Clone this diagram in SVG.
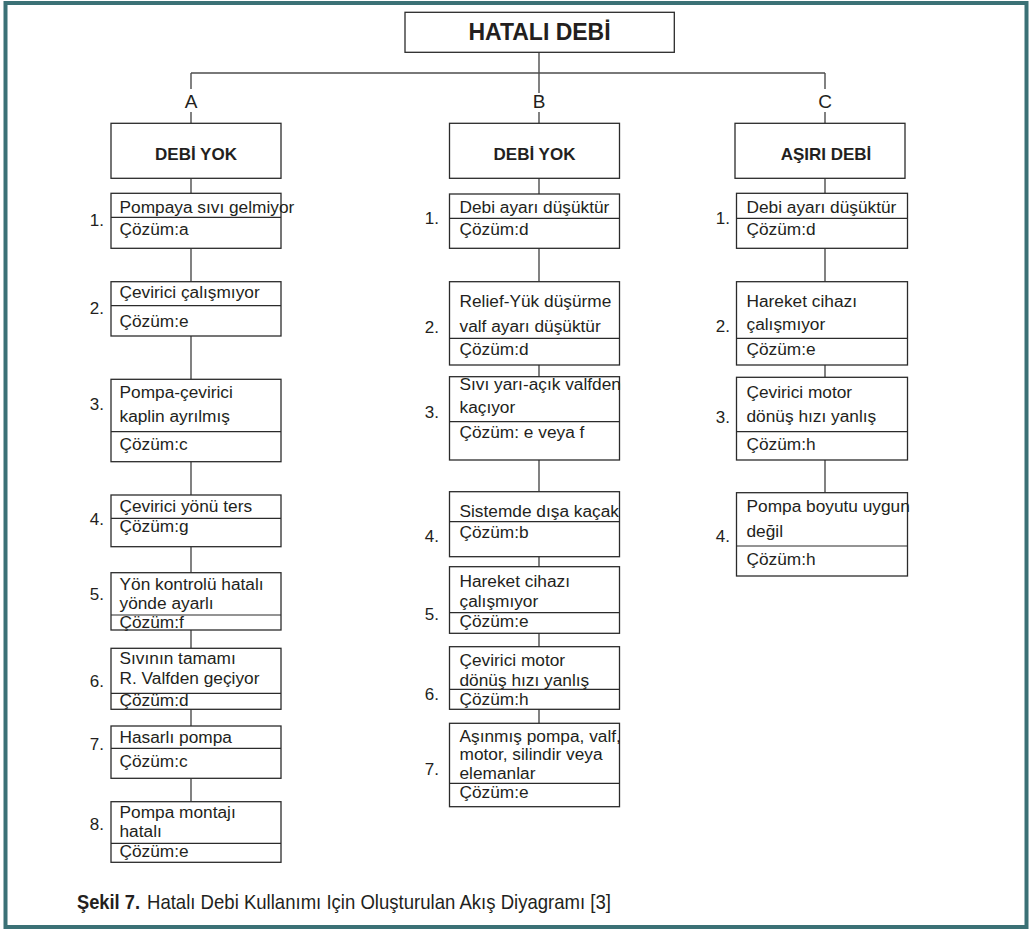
<svg xmlns="http://www.w3.org/2000/svg" width="1031" height="929" viewBox="0 0 1031 929">
<style>
.bg{fill:#ffffff}
.frame{fill:none;stroke:#3b7176;stroke-width:4}
.box{fill:#ffffff;stroke:#2b2b2b;stroke-width:1.3}
.dv{stroke:#2b2b2b;stroke-width:1.2}
.conn{stroke:#4d4d4d;stroke-width:1.4;fill:none}
.t{font-family:"Liberation Sans",Arial,Helvetica,sans-serif;font-size:17.3px;fill:#231f20}
.n{font-family:"Liberation Sans",Arial,Helvetica,sans-serif;font-size:17px;fill:#231f20;text-anchor:end}
.h{font-family:"Liberation Sans",Arial,Helvetica,sans-serif;font-size:17px;font-weight:bold;fill:#231f20;text-anchor:middle}
.lbl{font-family:"Liberation Sans",Arial,Helvetica,sans-serif;font-size:19px;fill:#231f20;text-anchor:middle}
.cap{font-family:"Liberation Sans",Arial,Helvetica,sans-serif;font-size:21px;fill:#231f20}
</style>
<rect class="bg" x="0" y="0" width="1031" height="929"/>
<rect class="frame" x="5.5" y="3" width="1021" height="924"/>

<g id="connectors">
<path class="conn" d="M539 52.3V93 M191 73H825 M191 73V89 M825 73V89 M191 112V123.3 M539 112V123.3 M825 112V123.3"/>
<path class="conn" d="M191 178.3V193.3 M191 248.3V281.7 M191 336V379.3 M191 461.7V495 M191 546.7V572.7 M191 630V648.3 M191 709.3V726 M191 778.3V801.7"/>
<path class="conn" d="M539 178.3V194 M539 248.3V281.7 M539 365V376.7 M539 460V491.7 M539 556.7V566.7 M539 633.3V646.7 M539 709.3V723.3"/>
<path class="conn" d="M825 178.3V193.3 M825 248.3V281.7 M825 365V377.3 M825 460V492.7"/>
</g>

<g id="title">
<rect class="box" x="405" y="12.3" width="269.3" height="40"/>
<text x="539.5" y="40" font-family="Liberation Sans,Arial,sans-serif" font-size="23" font-weight="bold" fill="#231f20" text-anchor="middle">HATALI DEBİ</text>
</g>
<g id="labels">
<text class="lbl" x="191" y="108">A</text>
<text class="lbl" x="539" y="108">B</text>
<text class="lbl" x="825" y="108">C</text>
</g>

<!-- Column A -->
<g id="A-head"><rect class="box" x="111" y="123.3" width="170" height="55"/><text class="h" x="196" y="160">DEBİ YOK</text></g>
<g id="A1"><rect class="box" x="111" y="193.3" width="170" height="55"/><line class="dv" x1="111" y1="217.3" x2="281" y2="217.3"/>
<text class="t" x="119.5" y="212.7">Pompaya sıvı gelmiyor</text><text class="t" x="119.5" y="235">Çözüm:a</text><text class="n" x="104" y="226">1.</text></g>
<g id="A2"><rect class="box" x="111" y="281.7" width="170" height="54.3"/><line class="dv" x1="111" y1="305.7" x2="281" y2="305.7"/>
<text class="t" x="119.5" y="298">Çevirici çalışmıyor</text><text class="t" x="119.5" y="326.7">Çözüm:e</text><text class="n" x="104" y="314">2.</text></g>
<g id="A3"><rect class="box" x="111" y="379.3" width="170" height="82.4"/><line class="dv" x1="111" y1="431.7" x2="281" y2="431.7"/>
<text class="t" x="119.5" y="398">Pompa-çevirici</text><text class="t" x="119.5" y="421.7">kaplin ayrılmış</text><text class="t" x="119.5" y="450">Çözüm:c</text><text class="n" x="104" y="410">3.</text></g>
<g id="A4"><rect class="box" x="111" y="495" width="170" height="51.7"/><line class="dv" x1="111" y1="518.3" x2="281" y2="518.3"/>
<text class="t" x="119.5" y="511.7">Çevirici yönü ters</text><text class="t" x="119.5" y="532">Çözüm:g</text><text class="n" x="104" y="525">4.</text></g>
<g id="A5"><rect class="box" x="111" y="572.7" width="170" height="57.3"/><line class="dv" x1="111" y1="615" x2="281" y2="615"/>
<text class="t" x="119.5" y="590">Yön kontrolü hatalı</text><text class="t" x="119.5" y="609.3">yönde ayarlı</text><text class="t" x="119.5" y="627.7">Çözüm:f</text><text class="n" x="104" y="600">5.</text></g>
<g id="A6"><rect class="box" x="111" y="648.3" width="170" height="61"/><line class="dv" x1="111" y1="693.3" x2="281" y2="693.3"/>
<text class="t" x="119.5" y="664.3">Sıvının tamamı</text><text class="t" x="119.5" y="684">R. Valfden geçiyor</text><text class="t" x="119.5" y="705.5">Çözüm:d</text><text class="n" x="104" y="686.7">6.</text></g>
<g id="A7"><rect class="box" x="111" y="726" width="170" height="52.3"/><line class="dv" x1="111" y1="748.3" x2="281" y2="748.3"/>
<text class="t" x="119.5" y="743.3">Hasarlı pompa</text><text class="t" x="119.5" y="766.7">Çözüm:c</text><text class="n" x="104" y="750">7.</text></g>
<g id="A8"><rect class="box" x="111" y="801.7" width="170" height="60.6"/><line class="dv" x1="111" y1="843.3" x2="281" y2="843.3"/>
<text class="t" x="119.5" y="818.3">Pompa montajı</text><text class="t" x="119.5" y="837.3">hatalı</text><text class="t" x="119.5" y="857">Çözüm:e</text><text class="n" x="104" y="830">8.</text></g>

<!-- Column B -->
<g id="B-head"><rect class="box" x="449.5" y="123.3" width="170" height="55"/><text class="h" x="534.5" y="160">DEBİ YOK</text></g>
<g id="B1"><rect class="box" x="449.5" y="194" width="170" height="54.3"/><line class="dv" x1="449.5" y1="218.3" x2="619.5" y2="218.3"/>
<text class="t" x="459.5" y="212.7">Debi ayarı düşüktür</text><text class="t" x="459.5" y="235">Çözüm:d</text><text class="n" x="439" y="224">1.</text></g>
<g id="B2"><rect class="box" x="449.5" y="281.7" width="170" height="83.3"/><line class="dv" x1="449.5" y1="338.3" x2="619.5" y2="338.3"/>
<text class="t" x="459.5" y="306.7">Relief-Yük düşürme</text><text class="t" x="459.5" y="331.7">valf ayarı düşüktür</text><text class="t" x="459.5" y="355">Çözüm:d</text><text class="n" x="439" y="333.3">2.</text></g>
<g id="B3"><rect class="box" x="449.5" y="376.7" width="170" height="83.3"/><line class="dv" x1="449.5" y1="421.7" x2="619.5" y2="421.7"/>
<text class="t" x="459.5" y="390">Sıvı yarı-açık valfden</text><text class="t" x="459.5" y="413.3">kaçıyor</text><text class="t" x="459.5" y="438.3">Çözüm: e veya f</text><text class="n" x="439" y="418.3">3.</text></g>
<g id="B4"><rect class="box" x="449.5" y="491.7" width="170" height="65"/><line class="dv" x1="449.5" y1="521.7" x2="619.5" y2="521.7"/>
<text class="t" x="459.5" y="516.7">Sistemde dışa kaçak</text><text class="t" x="459.5" y="538.3">Çözüm:b</text><text class="n" x="439" y="541.7">4.</text></g>
<g id="B5"><rect class="box" x="449.5" y="566.7" width="170" height="66.6"/><line class="dv" x1="449.5" y1="612.7" x2="619.5" y2="612.7"/>
<text class="t" x="459.5" y="586.7">Hareket cihazı</text><text class="t" x="459.5" y="606.7">çalışmıyor</text><text class="t" x="459.5" y="627">Çözüm:e</text><text class="n" x="439" y="620">5.</text></g>
<g id="B6"><rect class="box" x="449.5" y="646.7" width="170" height="62.6"/><line class="dv" x1="449.5" y1="689.3" x2="619.5" y2="689.3"/>
<text class="t" x="459.5" y="666">Çevirici motor</text><text class="t" x="459.5" y="685.5">dönüş hızı yanlış</text><text class="t" x="459.5" y="704.5">Çözüm:h</text><text class="n" x="439" y="700">6.</text></g>
<g id="B7"><rect class="box" x="449.5" y="723.3" width="170" height="83.4"/><line class="dv" x1="449.5" y1="783.3" x2="619.5" y2="783.3"/>
<text class="t" x="459.5" y="741.7">Aşınmış pompa, valf,</text><text class="t" x="459.5" y="760">motor, silindir veya</text><text class="t" x="459.5" y="779.3">elemanlar</text><text class="t" x="459.5" y="798">Çözüm:e</text><text class="n" x="439" y="775">7.</text></g>

<!-- Column C -->
<g id="C-head"><rect class="box" x="735" y="123.3" width="170" height="55"/><text class="h" x="826" y="160">AŞIRI DEBİ</text></g>
<g id="C1"><rect class="box" x="736.5" y="193.3" width="171" height="55"/><line class="dv" x1="736.5" y1="218.3" x2="907.5" y2="218.3"/>
<text class="t" x="746.5" y="212.7">Debi ayarı düşüktür</text><text class="t" x="746.5" y="235">Çözüm:d</text><text class="n" x="730" y="224">1.</text></g>
<g id="C2"><rect class="box" x="736.5" y="281.7" width="171" height="83.3"/><line class="dv" x1="736.5" y1="338.3" x2="907.5" y2="338.3"/>
<text class="t" x="746.5" y="306.7">Hareket cihazı</text><text class="t" x="746.5" y="330">çalışmıyor</text><text class="t" x="746.5" y="355">Çözüm:e</text><text class="n" x="730" y="331.7">2.</text></g>
<g id="C3"><rect class="box" x="736.5" y="377.3" width="171" height="82.7"/><line class="dv" x1="736.5" y1="431.7" x2="907.5" y2="431.7"/>
<text class="t" x="746.5" y="398.3">Çevirici motor</text><text class="t" x="746.5" y="421.7">dönüş hızı yanlış</text><text class="t" x="746.5" y="450">Çözüm:h</text><text class="n" x="730" y="423.3">3.</text></g>
<g id="C4"><rect class="box" x="736.5" y="492.7" width="171" height="83.3"/><line class="dv" x1="736.5" y1="546" x2="907.5" y2="546"/>
<text class="t" x="746.5" y="511.7">Pompa boyutu uygun</text><text class="t" x="746.5" y="536.7">değil</text><text class="t" x="746.5" y="565">Çözüm:h</text><text class="n" x="730" y="541.7">4.</text></g>

<g id="caption">
<text class="cap" x="77" y="909" font-weight="bold" textLength="63" lengthAdjust="spacingAndGlyphs">Şekil 7.</text>
<text class="cap" x="147" y="909" textLength="464" lengthAdjust="spacingAndGlyphs">Hatalı Debi Kullanımı Için Oluşturulan Akış Diyagramı [3]</text>
</g>
</svg>
